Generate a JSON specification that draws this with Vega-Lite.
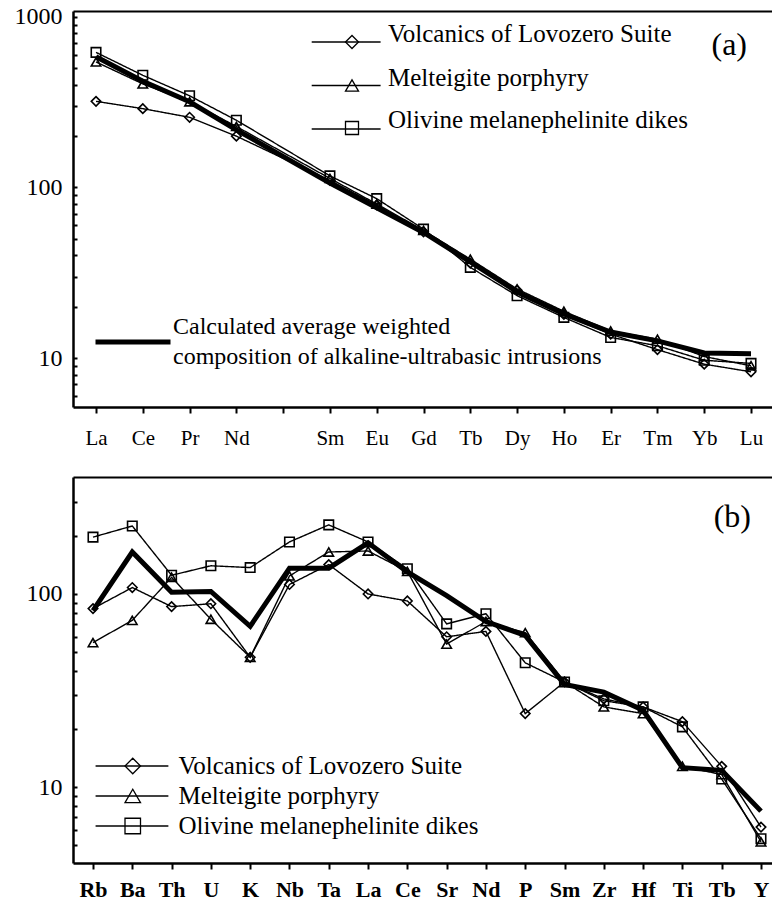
{
  "$schema": "https://vega.github.io/schema/vega-lite/v6.json",
  "background": "white",
  "padding": {"left": 14, "top": 4, "right": 0, "bottom": 0},
  "spacing": 70,
  "bounds": "flush",
  "resolve": {
    "scale": {"shape": "independent", "strokeDash": "independent", "color": "independent"},
    "legend": {"shape": "independent", "strokeDash": "independent", "color": "independent"}
  },
  "config": {
    "view": {"stroke": null},
    "font": "Liberation Serif",
    "axis": {"domainColor": "black", "tickColor": "black", "labelColor": "black", "labelFont": "Liberation Serif", "grid": false}
  },
  "datasets": {
    "a": [
      {"el": "La", "series": "Volcanics of Lovozero Suite", "v": 320},
      {"el": "Ce", "series": "Volcanics of Lovozero Suite", "v": 290},
      {"el": "Pr", "series": "Volcanics of Lovozero Suite", "v": 258},
      {"el": "Nd", "series": "Volcanics of Lovozero Suite", "v": 200},
      {"el": "Sm", "series": "Volcanics of Lovozero Suite", "v": 110},
      {"el": "Eu", "series": "Volcanics of Lovozero Suite", "v": 79},
      {"el": "Gd", "series": "Volcanics of Lovozero Suite", "v": 55},
      {"el": "Tb", "series": "Volcanics of Lovozero Suite", "v": 36},
      {"el": "Dy", "series": "Volcanics of Lovozero Suite", "v": 25},
      {"el": "Ho", "series": "Volcanics of Lovozero Suite", "v": 18},
      {"el": "Er", "series": "Volcanics of Lovozero Suite", "v": 13.8},
      {"el": "Tm", "series": "Volcanics of Lovozero Suite", "v": 11.2},
      {"el": "Yb", "series": "Volcanics of Lovozero Suite", "v": 9.2},
      {"el": "Lu", "series": "Volcanics of Lovozero Suite", "v": 8.3},
      {"el": "La", "series": "Melteigite porphyry", "v": 545},
      {"el": "Ce", "series": "Melteigite porphyry", "v": 405},
      {"el": "Pr", "series": "Melteigite porphyry", "v": 318},
      {"el": "Nd", "series": "Melteigite porphyry", "v": 228},
      {"el": "Sm", "series": "Melteigite porphyry", "v": 113},
      {"el": "Eu", "series": "Melteigite porphyry", "v": 80},
      {"el": "Gd", "series": "Melteigite porphyry", "v": 56},
      {"el": "Tb", "series": "Melteigite porphyry", "v": 38},
      {"el": "Dy", "series": "Melteigite porphyry", "v": 25.4},
      {"el": "Ho", "series": "Melteigite porphyry", "v": 18.8},
      {"el": "Er", "series": "Melteigite porphyry", "v": 14.4},
      {"el": "Tm", "series": "Melteigite porphyry", "v": 12.9},
      {"el": "Yb", "series": "Melteigite porphyry", "v": 10.2},
      {"el": "Lu", "series": "Melteigite porphyry", "v": 9.0},
      {"el": "La", "series": "Olivine melanephelinite dikes", "v": 620},
      {"el": "Ce", "series": "Olivine melanephelinite dikes", "v": 455},
      {"el": "Pr", "series": "Olivine melanephelinite dikes", "v": 345},
      {"el": "Nd", "series": "Olivine melanephelinite dikes", "v": 248},
      {"el": "Sm", "series": "Olivine melanephelinite dikes", "v": 117},
      {"el": "Eu", "series": "Olivine melanephelinite dikes", "v": 86},
      {"el": "Gd", "series": "Olivine melanephelinite dikes", "v": 57},
      {"el": "Tb", "series": "Olivine melanephelinite dikes", "v": 34},
      {"el": "Dy", "series": "Olivine melanephelinite dikes", "v": 23.2},
      {"el": "Ho", "series": "Olivine melanephelinite dikes", "v": 17.3},
      {"el": "Er", "series": "Olivine melanephelinite dikes", "v": 13.2},
      {"el": "Tm", "series": "Olivine melanephelinite dikes", "v": 11.8},
      {"el": "Yb", "series": "Olivine melanephelinite dikes", "v": 9.7},
      {"el": "Lu", "series": "Olivine melanephelinite dikes", "v": 9.3},
      {"el": "La", "series": "Calculated average weighted composition of alkaline-ultrabasic intrusions", "v": 585},
      {"el": "Ce", "series": "Calculated average weighted composition of alkaline-ultrabasic intrusions", "v": 420},
      {"el": "Pr", "series": "Calculated average weighted composition of alkaline-ultrabasic intrusions", "v": 318},
      {"el": "Nd", "series": "Calculated average weighted composition of alkaline-ultrabasic intrusions", "v": 218},
      {"el": "Sm", "series": "Calculated average weighted composition of alkaline-ultrabasic intrusions", "v": 106},
      {"el": "Eu", "series": "Calculated average weighted composition of alkaline-ultrabasic intrusions", "v": 76},
      {"el": "Gd", "series": "Calculated average weighted composition of alkaline-ultrabasic intrusions", "v": 54.5},
      {"el": "Tb", "series": "Calculated average weighted composition of alkaline-ultrabasic intrusions", "v": 36.6},
      {"el": "Dy", "series": "Calculated average weighted composition of alkaline-ultrabasic intrusions", "v": 24.4},
      {"el": "Ho", "series": "Calculated average weighted composition of alkaline-ultrabasic intrusions", "v": 18.1},
      {"el": "Er", "series": "Calculated average weighted composition of alkaline-ultrabasic intrusions", "v": 14.2},
      {"el": "Tm", "series": "Calculated average weighted composition of alkaline-ultrabasic intrusions", "v": 12.6},
      {"el": "Yb", "series": "Calculated average weighted composition of alkaline-ultrabasic intrusions", "v": 10.7},
      {"el": "Lu", "series": "Calculated average weighted composition of alkaline-ultrabasic intrusions", "v": 10.6}
    ],
    "b": [
      {"el": "Rb", "series": "Volcanics of Lovozero Suite", "v": 84},
      {"el": "Ba", "series": "Volcanics of Lovozero Suite", "v": 108},
      {"el": "Th", "series": "Volcanics of Lovozero Suite", "v": 86},
      {"el": "U", "series": "Volcanics of Lovozero Suite", "v": 89},
      {"el": "K", "series": "Volcanics of Lovozero Suite", "v": 47},
      {"el": "Nb", "series": "Volcanics of Lovozero Suite", "v": 112},
      {"el": "Ta", "series": "Volcanics of Lovozero Suite", "v": 142},
      {"el": "La", "series": "Volcanics of Lovozero Suite", "v": 100},
      {"el": "Ce", "series": "Volcanics of Lovozero Suite", "v": 92},
      {"el": "Sr", "series": "Volcanics of Lovozero Suite", "v": 60},
      {"el": "Nd", "series": "Volcanics of Lovozero Suite", "v": 64},
      {"el": "P", "series": "Volcanics of Lovozero Suite", "v": 24},
      {"el": "Sm", "series": "Volcanics of Lovozero Suite", "v": 35},
      {"el": "Zr", "series": "Volcanics of Lovozero Suite", "v": 28.6},
      {"el": "Hf", "series": "Volcanics of Lovozero Suite", "v": 26},
      {"el": "Ti", "series": "Volcanics of Lovozero Suite", "v": 21.8},
      {"el": "Tb", "series": "Volcanics of Lovozero Suite", "v": 12.8},
      {"el": "Y", "series": "Volcanics of Lovozero Suite", "v": 6.2},
      {"el": "Rb", "series": "Melteigite porphyry", "v": 56},
      {"el": "Ba", "series": "Melteigite porphyry", "v": 73},
      {"el": "Th", "series": "Melteigite porphyry", "v": 122},
      {"el": "U", "series": "Melteigite porphyry", "v": 74},
      {"el": "K", "series": "Melteigite porphyry", "v": 47},
      {"el": "Nb", "series": "Melteigite porphyry", "v": 124},
      {"el": "Ta", "series": "Melteigite porphyry", "v": 165},
      {"el": "La", "series": "Melteigite porphyry", "v": 167},
      {"el": "Ce", "series": "Melteigite porphyry", "v": 131},
      {"el": "Sr", "series": "Melteigite porphyry", "v": 55},
      {"el": "Nd", "series": "Melteigite porphyry", "v": 72},
      {"el": "P", "series": "Melteigite porphyry", "v": 63},
      {"el": "Sm", "series": "Melteigite porphyry", "v": 35},
      {"el": "Zr", "series": "Melteigite porphyry", "v": 26},
      {"el": "Hf", "series": "Melteigite porphyry", "v": 24},
      {"el": "Ti", "series": "Melteigite porphyry", "v": 12.8},
      {"el": "Tb", "series": "Melteigite porphyry", "v": 11.6},
      {"el": "Y", "series": "Melteigite porphyry", "v": 5.2},
      {"el": "Rb", "series": "Olivine melanephelinite dikes", "v": 197},
      {"el": "Ba", "series": "Olivine melanephelinite dikes", "v": 225},
      {"el": "Th", "series": "Olivine melanephelinite dikes", "v": 125},
      {"el": "U", "series": "Olivine melanephelinite dikes", "v": 140},
      {"el": "K", "series": "Olivine melanephelinite dikes", "v": 137},
      {"el": "Nb", "series": "Olivine melanephelinite dikes", "v": 186},
      {"el": "Ta", "series": "Olivine melanephelinite dikes", "v": 228},
      {"el": "La", "series": "Olivine melanephelinite dikes", "v": 186},
      {"el": "Ce", "series": "Olivine melanephelinite dikes", "v": 135},
      {"el": "Sr", "series": "Olivine melanephelinite dikes", "v": 70},
      {"el": "Nd", "series": "Olivine melanephelinite dikes", "v": 79},
      {"el": "P", "series": "Olivine melanephelinite dikes", "v": 44},
      {"el": "Sm", "series": "Olivine melanephelinite dikes", "v": 35},
      {"el": "Zr", "series": "Olivine melanephelinite dikes", "v": 28},
      {"el": "Hf", "series": "Olivine melanephelinite dikes", "v": 26},
      {"el": "Ti", "series": "Olivine melanephelinite dikes", "v": 20.5},
      {"el": "Tb", "series": "Olivine melanephelinite dikes", "v": 11.0},
      {"el": "Y", "series": "Olivine melanephelinite dikes", "v": 5.4},
      {"el": "Rb", "series": "Average", "v": 82},
      {"el": "Ba", "series": "Average", "v": 165},
      {"el": "Th", "series": "Average", "v": 102},
      {"el": "U", "series": "Average", "v": 103},
      {"el": "K", "series": "Average", "v": 68},
      {"el": "Nb", "series": "Average", "v": 136},
      {"el": "Ta", "series": "Average", "v": 136},
      {"el": "La", "series": "Average", "v": 184},
      {"el": "Ce", "series": "Average", "v": 130},
      {"el": "Sr", "series": "Average", "v": 98},
      {"el": "Nd", "series": "Average", "v": 72},
      {"el": "P", "series": "Average", "v": 61},
      {"el": "Sm", "series": "Average", "v": 34},
      {"el": "Zr", "series": "Average", "v": 31},
      {"el": "Hf", "series": "Average", "v": 25},
      {"el": "Ti", "series": "Average", "v": 12.6},
      {"el": "Tb", "series": "Average", "v": 12.2},
      {"el": "Y", "series": "Average", "v": 7.5}
    ]
  },
  "vconcat": [
    {
      "width": 699,
      "height": 396,
      "data": {"name": "a"},
      "title": {"text": "(a)", "orient": "top", "anchor": "end", "frame": "group", "offset": -57, "dx": -25, "fontSize": 32, "font": "Liberation Serif", "fontWeight": "normal", "color": "black"},
      "encoding": {
        "y": {
          "field": "v", "type": "quantitative", "title": null,
          "scale": {"type": "log", "domain": [5.16, 1084], "nice": false},
          "axis": {"values": [6, 7, 8, 9, 10, 20, 30, 40, 50, 60, 70, 80, 90, 100, 200, 300, 400, 500, 600, 700, 800, 900, 1000],
            "labelExpr": "datum.value == 10 || datum.value == 100 || datum.value == 1000 ? datum.value + '' : ''",
            "tickSize": -4, "tickWidth": 2, "domainWidth": 2.5, "labelPadding": 15, "labelFontSize": 24, "labelOverlap": false, "labelFlush": false}
        }
      },
      "layer": [
        {
          "transform": [{"filter": {"field": "series", "oneOf": ["Volcanics of Lovozero Suite", "Melteigite porphyry", "Olivine melanephelinite dikes"]}}],
          "mark": {"type": "line", "color": "black", "strokeWidth": 1.4},
          "encoding": {
            "x": {"field": "el", "type": "ordinal", "title": null,
              "scale": {"type": "point", "domain": ["La", "Ce", "Pr", "Nd", "Pm", "Sm", "Eu", "Gd", "Tb", "Dy", "Ho", "Er", "Tm", "Yb", "Lu"], "padding": 0.4702, "align": 0.523},
              "axis": {"orient": "bottom", "labelExpr": "datum.value == 'Pm' ? '' : datum.value", "labelAngle": 0, "tickSize": 6, "tickWidth": 2, "domainWidth": 2.5, "labelPadding": 14, "labelFontSize": 21}},
            "strokeDash": {"field": "series", "type": "nominal",
              "scale": {"range": [[1, 0], [1, 0], [1, 0]]},
              "legend": {"orient": "none", "legendX": 266.5, "legendY": 18.5, "title": null, "symbolType": "M-6.2,0L4.4,0M0,-1L0,-1M0,1L0,1", "symbolSize": 169, "symbolStrokeWidth": 1.3, "symbolStrokeColor": "black",
                "labelFont": "Liberation Serif", "labelFontSize": 25, "labelExpr": "' '", "labelOffset": 23.5, "labelLimit": 800, "labelBaseline": "alphabetic", "rowPadding": 13.5}},
            "order": {"value": null}
          }
        },
        {
          "transform": [{"filter": {"field": "series", "oneOf": ["Volcanics of Lovozero Suite", "Melteigite porphyry", "Olivine melanephelinite dikes"]}}],
          "mark": {"type": "point", "filled": false, "color": "black", "strokeWidth": 1.6, "size": 90, "opacity": 1},
          "encoding": {
            "x": {"field": "el", "type": "ordinal", "title": null,
              "scale": {"type": "point", "domain": ["La", "Ce", "Pr", "Nd", "Pm", "Sm", "Eu", "Gd", "Tb", "Dy", "Ho", "Er", "Tm", "Yb", "Lu"], "padding": 0.4702, "align": 0.523},
              "axis": null},
            "shape": {"field": "series", "type": "nominal",
              "scale": {"domain": ["Volcanics of Lovozero Suite", "Melteigite porphyry", "Olivine melanephelinite dikes"], "range": ["diamond", "triangle-up", "square"]},
              "legend": {"orient": "none", "legendX": 266.5, "legendY": 18.5, "title": null, "symbolSize": 169, "symbolStrokeWidth": 1.3, "symbolStrokeColor": "black", "symbolFillColor": "white",
                "labelFont": "Liberation Serif", "labelFontSize": 25, "labelColor": "black", "labelOffset": 23.5, "labelLimit": 800, "labelBaseline": "alphabetic", "rowPadding": 13.5}
            }
          }
        },
        {
          "transform": [{"filter": {"field": "series", "equal": "Calculated average weighted composition of alkaline-ultrabasic intrusions"}}],
          "mark": {"type": "line", "strokeWidth": 5},
          "encoding": {
            "x": {"field": "el", "type": "ordinal", "title": null,
              "scale": {"type": "point", "domain": ["La", "Ce", "Pr", "Nd", "Pm", "Sm", "Eu", "Gd", "Tb", "Dy", "Ho", "Er", "Tm", "Yb", "Lu"], "padding": 0.4702, "align": 0.523},
              "axis": {"orient": "top", "labels": false, "ticks": false, "domainWidth": 2}},
            "color": {"field": "series", "type": "nominal", "scale": {"range": ["black"]},
              "legend": {"orient": "none", "legendX": 20, "legendY": 291, "title": null, "symbolType": "stroke", "symbolSize": 5625, "symbolStrokeWidth": 5, "symbolStrokeColor": "black",
                "labelFont": "Liberation Serif", "labelFontSize": 24, "labelColor": "black", "labelOffset": 0, "labelLimit": 800,
                "labelExpr": "[slice(datum.label, 0, 27), slice(datum.label, 28)]",
                "encode": {"labels": {"update": {"lineHeight": {"value": 30}, "dy": {"value": -15}}}}}},
            "order": {"value": null}
          }
        }
      ],
      "resolve": {"axis": {"x": "independent"}, "scale": {"color": "independent", "strokeDash": "independent", "shape": "independent"}}
    },
    {
      "width": 699,
      "height": 386,
      "data": {"name": "b"},
      "title": {"text": "(b)", "orient": "top", "anchor": "end", "frame": "group", "offset": -57, "dx": -21, "fontSize": 32, "font": "Liberation Serif", "fontWeight": "normal", "color": "black"},
      "encoding": {
        "y": {
          "field": "v", "type": "quantitative", "title": null,
          "scale": {"type": "log", "domain": [4.04, 403.6], "nice": false},
          "axis": {"values": [5, 6, 7, 8, 9, 10, 20, 30, 40, 50, 60, 70, 80, 90, 100, 200, 300],
            "labelExpr": "datum.value == 10 || datum.value == 100 ? datum.value + '' : ''",
            "tickSize": -4, "tickWidth": 2, "domainWidth": 2.5, "labelPadding": 15, "labelFontSize": 24, "labelOverlap": false, "labelFlush": false}
        }
      },
      "layer": [
        {
          "transform": [{"filter": {"field": "series", "oneOf": ["Volcanics of Lovozero Suite", "Melteigite porphyry", "Olivine melanephelinite dikes"]}}],
          "mark": {"type": "line", "color": "black", "strokeWidth": 1.4},
          "encoding": {
            "x": {"field": "el", "type": "ordinal", "title": null,
              "scale": {"type": "point", "domain": ["Rb", "Ba", "Th", "U", "K", "Nb", "Ta", "La", "Ce", "Sr", "Nd", "P", "Sm", "Zr", "Hf", "Ti", "Tb", "Y"], "padding": 0.3945, "align": 0.645},
              "axis": {"orient": "bottom", "labelAngle": 0, "tickSize": 6, "tickWidth": 2, "domainWidth": 2.5, "labelPadding": 10, "labelFontSize": 22, "labelFontWeight": "bold"}},
            "strokeDash": {"field": "series", "type": "nominal",
              "scale": {"range": [[1, 0], [1, 0], [1, 0]]},
              "legend": {"orient": "none", "legendX": 47.25, "legendY": 276.5, "title": null, "symbolType": "M-4.8,0L4.6,0M0,-1L0,-1M0,1L0,1", "symbolSize": 240, "symbolStrokeWidth": 1.3, "symbolStrokeColor": "black",
                "labelFont": "Liberation Serif", "labelFontSize": 25, "labelExpr": "' '", "labelOffset": 33.25, "labelLimit": 800, "labelBaseline": "middle", "rowPadding": 4}},
            "order": {"value": null}
          }
        },
        {
          "transform": [{"filter": {"field": "series", "oneOf": ["Volcanics of Lovozero Suite", "Melteigite porphyry", "Olivine melanephelinite dikes"]}}],
          "mark": {"type": "point", "filled": false, "color": "black", "strokeWidth": 1.6, "size": 90, "opacity": 1},
          "encoding": {
            "x": {"field": "el", "type": "ordinal", "title": null,
              "scale": {"type": "point", "domain": ["Rb", "Ba", "Th", "U", "K", "Nb", "Ta", "La", "Ce", "Sr", "Nd", "P", "Sm", "Zr", "Hf", "Ti", "Tb", "Y"], "padding": 0.3945, "align": 0.645},
              "axis": null},
            "shape": {"field": "series", "type": "nominal",
              "scale": {"domain": ["Volcanics of Lovozero Suite", "Melteigite porphyry", "Olivine melanephelinite dikes"], "range": ["diamond", "triangle-up", "square"]},
              "legend": {"orient": "none", "legendX": 47.25, "legendY": 276.5, "title": null, "symbolSize": 240, "symbolStrokeWidth": 1.3, "symbolStrokeColor": "black", "symbolFillColor": "white",
                "labelFont": "Liberation Serif", "labelFontSize": 25, "labelColor": "black", "labelOffset": 33.25, "labelLimit": 800, "labelBaseline": "middle", "rowPadding": 4}
            }
          }
        },
        {
          "transform": [{"filter": {"field": "series", "equal": "Average"}}],
          "mark": {"type": "line", "strokeWidth": 5, "color": "black"},
          "encoding": {
            "x": {"field": "el", "type": "ordinal", "title": null,
              "scale": {"type": "point", "domain": ["Rb", "Ba", "Th", "U", "K", "Nb", "Ta", "La", "Ce", "Sr", "Nd", "P", "Sm", "Zr", "Hf", "Ti", "Tb", "Y"], "padding": 0.3945, "align": 0.645},
              "axis": {"orient": "top", "labels": false, "ticks": false, "domainWidth": 2}},
            "order": {"value": null}
          }
        }
      ],
      "resolve": {"axis": {"x": "independent"}, "scale": {"strokeDash": "independent", "shape": "independent"}}
    }
  ]
}
